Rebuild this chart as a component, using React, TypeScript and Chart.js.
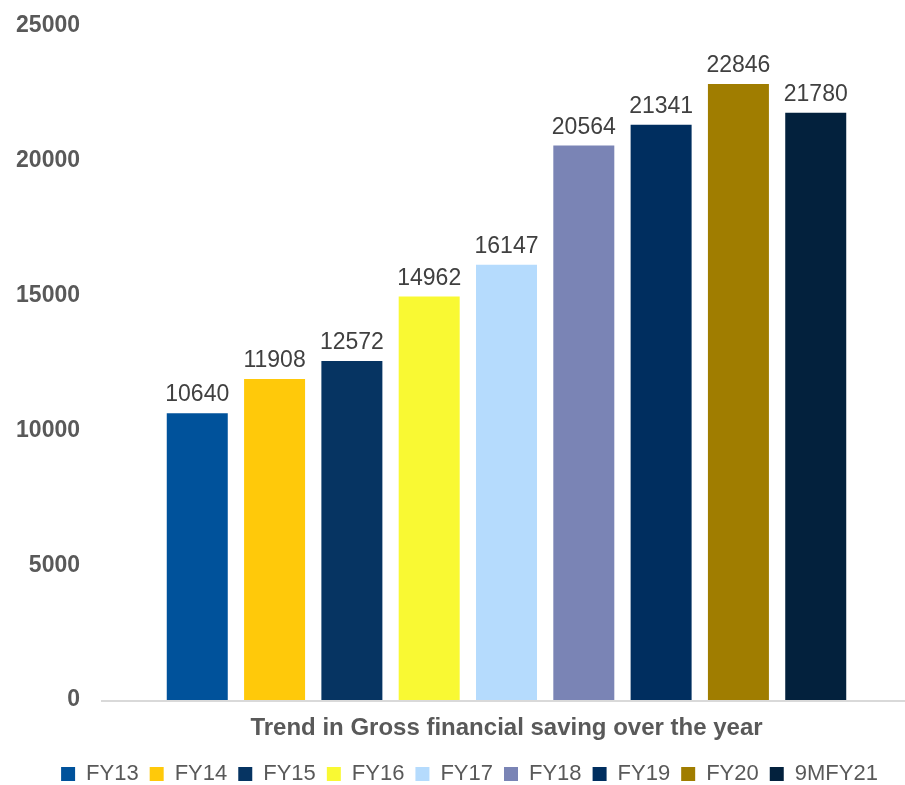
import { useEffect, useRef } from "react";
import { Chart, registerables } from "chart.js";

Chart.register(...registerables);

const categories = ["Trend in Gross financial saving over the year"];
const seriesNames = ["FY13", "FY14", "FY15", "FY16", "FY17", "FY18", "FY19", "FY20", "9MFY21"];
const seriesValues = [10640, 11908, 12572, 14962, 16147, 20564, 21341, 22846, 21780];
const seriesColors = ["#00529B", "#FFC90A", "#063462", "#F9F933", "#B5DBFD", "#7A84B5", "#002E5F", "#A07D00", "#03213D"];
const yMin = 0;
const yMax = 25000;
const yStep = 5000;

const FONT = "'Liberation Sans', Arial, Helvetica, sans-serif";

const valueLabels = {
  id: "valueLabels",
  afterDatasetsDraw(chart: any) {
    const ctx = chart.ctx;
    ctx.save();
    ctx.font = `23px ${FONT}`;
    ctx.fillStyle = "#404040";
    ctx.textAlign = "center";
    ctx.textBaseline = "alphabetic";
    chart.data.datasets.forEach((ds: any, i: number) => {
      const meta = chart.getDatasetMeta(i);
      meta.data.forEach((bar: any, j: number) => {
        ctx.fillText(String(ds.data[j]), bar.x, bar.y - 12);
      });
    });
    ctx.restore();
  },
};

const baseline = {
  id: "baseline",
  beforeDatasetsDraw(chart: any) {
    const { ctx, chartArea } = chart;
    ctx.save();
    ctx.strokeStyle = "#D9D9D9";
    ctx.lineWidth = 2;
    ctx.beginPath();
    ctx.moveTo(chartArea.left - 7, chartArea.bottom + 1);
    ctx.lineTo(chartArea.right, chartArea.bottom + 1);
    ctx.stroke();
    ctx.restore();
  },
};

const legendShift = {
  id: "legendShift",
  afterLayout(chart: any) {
    const lg = chart.legend;
    if (lg) {
      lg.left += 17;
      lg.right += 17;
    }
  },
};

export default function App() {
  const ref = useRef<HTMLCanvasElement | null>(null);

  useEffect(() => {
    document.body.style.margin = "0";
    if (!ref.current) return;
    const chart = new Chart(ref.current, {
      type: "bar",
      data: {
        labels: categories,
        datasets: seriesNames.map((name, i) => ({
          label: name,
          data: [seriesValues[i]],
          backgroundColor: seriesColors[i],
          borderWidth: 0,
          categoryPercentage: 0.873,
          barPercentage: 0.789,
        })),
      },
      options: {
        animation: false,
        responsive: false,
        devicePixelRatio: 1,
        layout: { padding: { top: 26, left: 0, right: 0, bottom: -10 } },
        plugins: {
          legend: {
            position: "bottom",
            labels: {
              boxWidth: 14,
              boxHeight: 14,
              padding: 11,
              color: "#595959",
              font: { family: FONT, size: 22 },
            },
          },
          tooltip: { enabled: false },
        },
        scales: {
          x: {
            grid: { display: false, drawTicks: false },
            border: { display: false },
            ticks: {
              color: "#595959",
              padding: 14,
              font: { family: FONT, size: 24, weight: "bold" },
            },
            afterFit(scale: any) {
              scale.height = 52;
            },
          },
          y: {
            min: yMin,
            max: yMax,
            grid: { display: false, drawTicks: false },
            border: { display: false },
            ticks: {
              stepSize: yStep,
              color: "#595959",
              padding: 28,
              font: { family: FONT, size: 23, weight: "bold" },
              callback: (v: any) => String(v),
            },
            afterFit(scale: any) {
              scale.width = 108;
              scale.paddingTop = 0;
              scale.paddingBottom = 0;
            },
          },
        },
      },
      plugins: [baseline, valueLabels, legendShift],
    });
    return () => chart.destroy();
  }, []);

  return (
    <div style={{ width: 905, height: 785, background: "#fff" }}>
      <canvas ref={ref} width={905} height={785} />
    </div>
  );
}
